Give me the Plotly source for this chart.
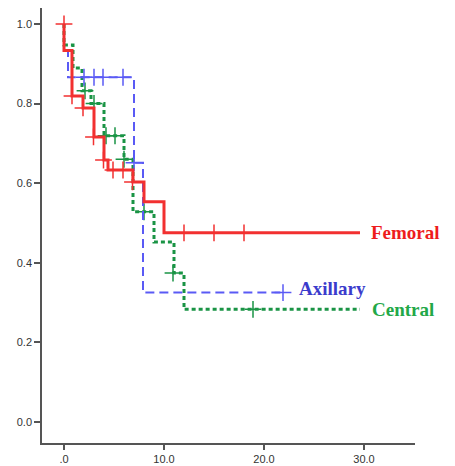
import plotly.graph_objects as go

# ---- data (Kaplan-Meier style step curves) ----
fem_times = [0, 0.0, 0.8, 1.9, 3.0, 4.0, 4.4, 6.9, 8.0, 10.0]
fem_surv = [1.0, 0.933, 0.819, 0.789, 0.716, 0.658, 0.633, 0.603, 0.553, 0.475]
fem_end = 29.6
fem_cens_t = [0.0, 0.8, 1.9, 2.95, 3.95, 4.9, 5.9, 6.85, 12.0, 15.0, 18.0]
fem_cens_s = [1.0, 0.819, 0.789, 0.716, 0.658, 0.633, 0.633, 0.603, 0.475, 0.475, 0.475]

ax_times = [0, 0.0, 0.4, 7.0, 7.9]
ax_surv = [1.0, 0.933, 0.866, 0.651, 0.325]
ax_end = 21.9
ax_cens_t = [2.0, 3.0, 3.9, 5.9, 7.0, 21.9]
ax_cens_s = [0.866, 0.866, 0.866, 0.866, 0.651, 0.325]

cen_times = [0, 0.0, 0.9, 1.8, 2.7, 4.0, 6.0, 6.9, 9.0, 11.0, 12.0]
cen_surv = [1.0, 0.947, 0.889, 0.832, 0.80, 0.719, 0.66, 0.528, 0.452, 0.374, 0.283]
cen_end = 29.6
cen_cens_t = [2.1, 3.0, 4.2, 5.1, 6.0, 8.0, 10.9, 18.9]
cen_cens_s = [0.832, 0.80, 0.719, 0.719, 0.66, 0.528, 0.374, 0.283]

x_tick_vals = [0, 10, 20, 30]
x_tick_text = [".0", "10.0", "20.0", "30.0"]
y_tick_vals = [0.0, 0.2, 0.4, 0.6, 0.8, 1.0]
y_tick_text = ["0.0", "0.2", "0.4", "0.6", "0.8", "1.0"]

series = [
    dict(name="Femoral", t=fem_times, s=fem_surv, end=fem_end, ct=fem_cens_t, cs=fem_cens_s,
         color="#f23030", label_color="#ee1c1c", dash="solid", width=3, lab_dx=0.9, lab_dy=0.0),
    dict(name="Axillary", t=ax_times, s=ax_surv, end=ax_end, ct=ax_cens_t, cs=ax_cens_s,
         color="#5a5af5", label_color="#3b3bcc", dash="9px,5px", width=2, lab_dx=1.4, lab_dy=0.009),
    dict(name="Central", t=cen_times, s=cen_surv, end=cen_end, ct=cen_cens_t, cs=cen_cens_s,
         color="#1a9445", label_color="#22a848", dash="4px,3px", width=3, lab_dx=1.0, lab_dy=0.0),
]

fig = go.Figure()
# draw in order so red is on top like the reference
for sdef in [series[2], series[1], series[0]]:
    xs = list(sdef["t"]) + [sdef["end"]]
    ys = list(sdef["s"]) + [sdef["s"][-1]]
    fig.add_trace(go.Scatter(x=xs, y=ys, mode="lines", line_shape="hv",
                             line=dict(color=sdef["color"], width=sdef["width"], dash=sdef["dash"]),
                             showlegend=False, hoverinfo="skip"))
    fig.add_trace(go.Scatter(x=sdef["ct"], y=sdef["cs"], mode="markers",
                             marker=dict(symbol="cross-thin", size=12,
                                         line=dict(color=sdef["color"], width=1.5)),
                             showlegend=False, hoverinfo="skip"))

for sdef in series:
    fig.add_annotation(x=sdef["end"] + sdef["lab_dx"], y=sdef["s"][-1] + sdef["lab_dy"],
                       text="<b>%s</b>" % sdef["name"], showarrow=False,
                       xanchor="left", yanchor="middle",
                       font=dict(family="Liberation Serif", size=19, color=sdef["label_color"]))

fig.update_layout(
    width=455, height=466,
    margin=dict(l=34, r=48, t=0, b=31, autoexpand=False),
    paper_bgcolor="white", plot_bgcolor="white",
    xaxis=dict(range=[-2.2, 35.1], tickvals=x_tick_vals, ticktext=x_tick_text,
               showgrid=False, zeroline=False, showline=True, linecolor="#555555", linewidth=1.5,
               ticks="outside", ticklen=5, tickwidth=1.5, tickcolor="#555555",
               tickfont=dict(family="Liberation Sans", size=11, color="#333333")),
    yaxis=dict(range=[-0.053, 1.04], tickvals=y_tick_vals, ticktext=y_tick_text,
               showgrid=False, zeroline=False, showline=True, linecolor="#555555", linewidth=1.5,
               ticks="outside", ticklen=6, tickwidth=1.5, tickcolor="#555555",
               tickfont=dict(family="Liberation Sans", size=11, color="#333333")),
)

fig.write_html("out.html")
